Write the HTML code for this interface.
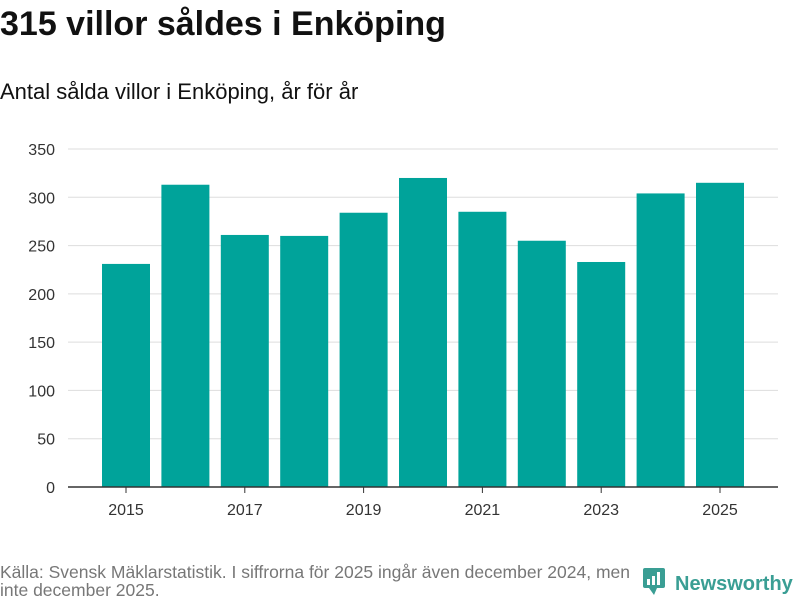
<!DOCTYPE html>
<html><head><meta charset="utf-8"><style>
body{margin:0;width:800px;height:600px;background:#fff;font-family:"Liberation Sans",sans-serif;overflow:hidden;position:relative}
#title{position:absolute;left:0;top:5px;font-size:34px;font-weight:bold;color:#111;margin:0;white-space:nowrap}
#sub{position:absolute;left:0;top:79px;font-size:22px;color:#111;white-space:nowrap}
#src{position:absolute;left:0;top:563px;font-size:17.5px;color:#777;line-height:18px;width:660px;white-space:nowrap}
#logo{position:absolute;left:643px;top:568px;font-size:20px;font-weight:bold;color:#3a9e94;white-space:nowrap;width:160px}
</style></head><body>
<h1 id="title">315 villor såldes i Enköping</h1>
<div id="sub">Antal sålda villor i Enköping, år för år</div>
<svg id="chart" width="800" height="600" style="position:absolute;left:0;top:0"></svg>
<div id="src">Källa: Svensk Mäklarstatistik. I siffrorna för 2025 ingår även december 2024, men<br>inte december 2025.</div>
<div id="logo"><svg width="24" height="28" style="vertical-align:-6px;margin-right:8px"><rect x="0" y="0" width="22" height="20" rx="2" fill="#3a9e94"/><polygon points="6,20 11,27 14,20" fill="#3a9e94"/><rect x="4" y="11" width="3" height="6" fill="#fff"/><rect x="9" y="8" width="3" height="9" fill="#fff"/><rect x="14" y="4" width="3" height="13" fill="#fff"/></svg>Newsworthy</div>
<script>
const years=[2015,2016,2017,2018,2019,2020,2021,2022,2023,2024,2025];
const values=[231,313,261,260,284,320,285,255,233,304,315];
const yTicks=[0,50,100,150,200,250,300,350];
const xLabels=[2015,2017,2019,2021,2023,2025];
const svg=document.getElementById('chart');const NS='http://www.w3.org/2000/svg';
const y0=487,yTop=149,yMax=350;
const y=v=>y0-(v/yMax)*(y0-yTop);
const x=i=>126+i*59.4;
function mk(t,a){const e=document.createElementNS(NS,t);for(const k in a)e.setAttribute(k,a[k]);svg.appendChild(e);return e;}
yTicks.forEach(t=>{
 const l=mk('line',{x1:68,x2:778,y1:y(t),y2:y(t),stroke:'#ddd','stroke-width':1});
 
 
 const tx=mk('text',{x:55,y:y(t)+6,'text-anchor':'end','font-size':16,fill:'#333','font-family':'Liberation Sans, sans-serif'});
 tx.textContent=t;
 
 
});
years.forEach((yr,i)=>{
 const b=mk('rect',{x:x(i)-24,y:y(values[i]),width:48,height:y0-y(values[i]),fill:'#00a39a'});
 
 
});
const ax=mk('line',{x1:68,x2:778,y1:y0,y2:y0,stroke:'#333','stroke-width':1.5});


xLabels.forEach(yr=>{
 const i=years.indexOf(yr);
 const tk=mk('line',{x1:x(i),x2:x(i),y1:y0,y2:y0+6,stroke:'#333'});
 
 
 const tx=mk('text',{x:x(i),y:515,'text-anchor':'middle','font-size':16,fill:'#333','font-family':'Liberation Sans, sans-serif'});
 tx.textContent=yr;
 
 
});
</script>
</body></html>
